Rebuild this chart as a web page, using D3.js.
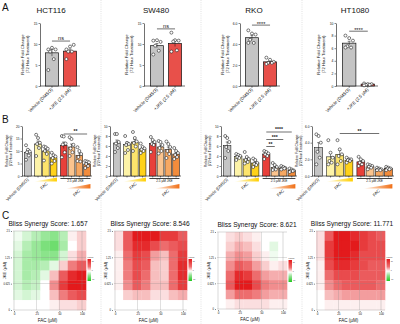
<!DOCTYPE html>
<html>
<head>
<meta charset="utf-8">
<script src="https://cdn.jsdelivr.net/npm/d3@7"></script>
<style>
body{margin:0;background:#fff}
svg text{font-family:"Liberation Sans",Arial,sans-serif;fill:#111}
</style>
</head>
<body>
<script>
// ---------- data ----------
const cellLines = ["HCT116", "SW480", "RKO", "HT1080"];

// panel A: 72h fold change, vehicle vs JKE
const groupsA = ["Vehicle (DMSO)", "+JKE (2.5 µM)"];
const meansA = [[7.9, 8.3], [9.6, 10.1], [4.6, 2.3], [6.8, 0.3]];
const semA = [[0.8, 0.5], [0.5, 0.7], [0.2, 0.1], [0.3, 0.05]];
const pointsA = [
  [[8.7, 9.1, 8.7, 8.2, 6.4, 3.8], [8.7, 9.4, 9.8, 8.2, 8.2, 6.4]],
  [[10.8, 10.9, 10.5, 9.6, 8.4, 7.5], [12.7, 10.9, 10.8, 10.6, 8.5, 8.2]],
  [[5.3, 5.0, 4.9, 4.4, 4.1, 4.1], [2.7, 2.5, 2.3, 2.2, 2.2, 2.1]],
  [[8.0, 7.6, 7.2, 6.3, 6.1, 6.1], [0.4, 0.3, 0.3, 0.2, 0.2, 0.1]]
];
const ymaxA = [15, 15, 6, 10];
const tickStepA = [5, 5, 2, 2];
const sigA = ["ns", "ns", "****", "****"];
const sigLevelA = [10.7, 13.6, 5.8, 8.7];

// panel B: FAC dose series with / without JKE
const groupsB = ["Vehicle (DMSO)", "FAC low", "FAC mid", "FAC high", "JKE", "JKE + FAC low", "JKE + FAC mid", "JKE + FAC high"];
const meansB = [
  [9.5, 12.8, 10.0, 7.3, 12.3, 11.6, 8.3, 4.8],
  [6.6, 6.3, 6.8, 5.4, 6.5, 5.8, 5.3, 4.4],
  [6.1, 3.9, 3.4, 2.6, 4.4, 1.7, 1.6, 1.1],
  [3.4, 2.3, 2.6, 1.9, 1.7, 1.1, 0.8, 0.9]
];
const semB = [
  [0.9, 1.2, 0.9, 0.7, 1.3, 1.2, 0.9, 0.4],
  [0.6, 0.5, 0.5, 0.3, 0.4, 0.4, 0.5, 0.3],
  [0.7, 0.2, 0.3, 0.3, 0.2, 0.2, 0.1, 0.1],
  [0.6, 0.4, 0.5, 0.1, 0.2, 0.1, 0.05, 0.05]
];
const pointsB = [
  [[12.3, 10.5, 9.8, 9.5, 8.2, 6.5], [16.5, 15.2, 13.3, 12.8, 11.2, 8.0], [11.8, 11.5, 10.9, 10.0, 8.8, 6.2], [9.3, 8.3, 7.8, 7.2, 6.0, 5.0],
   [16.0, 15.8, 13.0, 12.6, 9.5, 7.5], [15.5, 14.8, 12.5, 11.0, 9.5, 8.0], [11.5, 10.0, 8.8, 7.6, 5.8, 6.0], [6.0, 5.8, 5.5, 4.8, 4.0, 3.2]],
  [[8.4, 8.4, 6.8, 6.5, 5.6, 4.8], [8.0, 6.6, 6.4, 6.2, 5.2, 4.6], [8.8, 7.6, 6.9, 6.6, 5.9, 5.0], [6.5, 5.8, 5.5, 5.3, 5.0, 4.6],
   [7.8, 7.2, 6.8, 6.4, 6.2, 4.8], [7.0, 6.8, 6.2, 5.6, 5.0, 4.5], [6.9, 6.4, 5.8, 5.0, 4.4, 3.6], [5.6, 5.0, 4.6, 4.2, 3.8, 3.4]],
  [[8.0, 7.6, 6.8, 5.8, 5.0, 3.6], [4.4, 4.2, 4.0, 3.8, 3.6, 3.2], [4.8, 3.8, 3.4, 3.2, 2.8, 2.5], [3.5, 3.2, 2.6, 2.4, 2.2, 1.8],
   [5.0, 4.8, 4.5, 4.3, 4.0, 3.4], [2.6, 2.2, 1.8, 1.5, 1.3, 1.2], [2.0, 1.8, 1.6, 1.5, 1.5, 1.3], [1.5, 1.3, 1.1, 1.0, 1.0, 0.8]],
  [[5.0, 4.8, 4.0, 2.9, 2.2, 1.4], [4.3, 2.8, 2.2, 1.8, 1.6, 1.4], [4.3, 3.2, 2.6, 2.4, 1.8, 1.4], [2.2, 2.0, 2.0, 1.9, 1.8, 1.6],
   [2.3, 2.0, 1.8, 1.6, 1.4, 1.2], [1.4, 1.3, 1.2, 1.1, 1.0, 0.8], [1.0, 0.9, 0.8, 0.8, 0.7, 0.7], [1.1, 1.0, 0.9, 0.9, 0.8, 0.7]]
];
const ymaxB = [20, 10, 10, 6];
const tickStepB = [5, 2, 2, 2];
const sigB = [
  [{from: 4, to: 7, level: 16.8, label: "**"}],
  [],
  [{from: 4, to: 5, level: 5.9, label: "**"}, {from: 4, to: 6, level: 7.3, label: "***"}, {from: 4, to: 7, level: 8.8, label: "****"}],
  [{from: 2, to: 6, level: 5.1, label: "**"}]
];

// panel C: Bliss synergy surfaces (rows: JKE high -> 0, cols: FAC 0 -> high)
const doseFAC = ["0", "25", "50", "100"];
const doseJKE = ["0", "0.625", "1.25", "2.5"];
const blissScores = ["1.657", "8.546", "8.621", "11.771"];
const synergy = [
  [[-1, -3, -5, -7, -8, -5, 1, 3],
   [-2, -5, -7, -9, -10, -6, 0, 3],
   [-3, -6, -7, -8, -8, -3, 2, 5],
   [-3, -6, -6, -5, -2, 3, 8, 10],
   [-3, -6, -5, -2, 4, 10, 13, 14],
   [-3, -5, -4, 0, 7, 12, 15, 16],
   [-2, -3, -2, 0, 4, 8, 10, 11],
   [0, 0, 0, 0, 1, 2, 2, 3]],
  [[2, 10, 14, 15, 14, 12, 12, 10],
   [2, 10, 13, 13, 11, 9, 10, 11],
   [1, 9, 12, 11, 6, 4, 9, 12],
   [1, 8, 11, 10, 4, 3, 9, 13],
   [1, 8, 11, 9, 4, 3, 9, 13],
   [1, 7, 10, 8, 4, 4, 9, 12],
   [0, 3, 4, 4, 2, 2, 4, 5],
   [0, 0, 0, 0, 0, 0, 0, 0]],
  [[0, 2, 3, 2, 1, 0, 0, 0],
   [0, 3, 5, 4, 2, 0, -2, 0],
   [0, 5, 7, 6, 3, 1, -1, 0],
   [0, 7, 10, 9, 6, 3, 1, 2],
   [0, 9, 13, 12, 9, 6, 5, 5],
   [0, 10, 15, 14, 11, 8, 7, 7],
   [0, 6, 9, 9, 8, 6, 5, 5],
   [0, 1, 2, 2, 2, 2, 1, 1]],
  [[2, 10, 14, 15, 13, 12, 11, 10],
   [2, 12, 17, 18, 15, 12, 11, 11],
   [2, 12, 16, 15, 13, 11, 11, 11],
   [1, 11, 13, 13, 12, 11, 10, 10],
   [1, 9, 11, 11, 11, 10, 10, 10],
   [1, 7, 9, 10, 10, 10, 10, 9],
   [0, 4, 5, 6, 6, 6, 6, 6],
   [0, 1, 1, 1, 1, 1, 1, 1]]
];

// ---------- styles / layout ----------
const colorsA = ["#c4c4c4", "#e8504a"];
const colorsB = ["#c4c4c4", "#fdf3a8", "#fde46c", "#ffd21a", "#e8403a", "#fbc48e", "#f7a862", "#f28c3c"];
const slotsB = [0, 1.3, 2.3, 3.3, 4.6, 5.6, 6.6, 7.6];
const jitter = [-0.28, 0, 0.28, -0.14, 0.14, -0.28];

const svg = d3.select("body").append("svg").attr("width", 400).attr("height", 324);

// dotted column separators
[101, 201, 302].forEach(x => svg.append("line")
  .attr("x1", x).attr("x2", x).attr("y1", 0).attr("y2", 324)
  .attr("stroke", "#cfcfcf").attr("stroke-width", 0.6).attr("stroke-dasharray", "1,1.2"));

[["A", 11], ["B", 123], ["C", 219]].forEach(([t, y]) =>
  svg.append("text").attr("x", 2).attr("y", y).attr("font-size", 10).text(t));

function styleAxis(sel, fs) {
  sel.select(".domain").attr("stroke", "#111").attr("stroke-width", 0.6);
  sel.selectAll(".tick line").attr("stroke", "#111").attr("stroke-width", 0.5);
  sel.selectAll(".tick text").attr("font-size", fs).attr("fill", "#111");
}

function yLabel(g, x, y, fs, gap) {
  const t = g.append("g").attr("transform", `translate(${x},${y}) rotate(-90)`);
  t.append("text").attr("text-anchor", "middle").attr("font-size", fs).text("Relative Fold Change");
  t.append("text").attr("text-anchor", "middle").attr("font-size", fs).attr("y", gap).text("(72 Hour Treatment)");
}

function drawPoints(g, cx, bw, pts, y) {
  g.selectAll(null).data(pts).join("circle")
    .attr("cx", (d, k) => cx + jitter[k] * bw)
    .attr("cy", d => y(d)).attr("r", 1.5)
    .attr("fill", "#fff").attr("stroke", "#111").attr("stroke-width", 0.55);
}

function errBar(g, cx, m, s, y) {
  g.append("line").attr("x1", cx).attr("x2", cx).attr("y1", y(m - s)).attr("y2", y(m + s))
    .attr("stroke", "#111").attr("stroke-width", 0.5);
  g.append("line").attr("x1", cx - 1.5).attr("x2", cx + 1.5).attr("y1", y(m + s)).attr("y2", y(m + s))
    .attr("stroke", "#111").attr("stroke-width", 0.5);
}

// ---------- panel A ----------
const layA = [
  {ax: 40, b0: 44, b1: 78, tx: 51},
  {ax: 144, b0: 149, b1: 183, tx: 156},
  {ax: 240, b0: 244, b1: 278, tx: 254},
  {ax: 336, b0: 341, b1: 376, tx: 355}
];
const topA = 23, botA = 86;

cellLines.forEach((name, i) => {
  const L = layA[i];
  const g = svg.append("g");
  const y = d3.scaleLinear().domain([0, ymaxA[i]]).range([botA, topA]);
  const x = d3.scaleBand().domain(groupsA).range([L.b0, L.b1]).paddingInner(0.28).paddingOuter(0.08);

  g.append("text").attr("x", L.tx).attr("y", 13).attr("text-anchor", "middle").attr("font-size", 8).text(name);

  const ya = g.append("g").attr("transform", `translate(${L.ax},0)`)
    .call(d3.axisLeft(y).tickValues(d3.range(0, ymaxA[i] + 0.001, tickStepA[i])).tickSize(1.5).tickPadding(1).tickSizeOuter(0));
  styleAxis(ya, 3.4);
  yLabel(g, L.ax - 16, (topA + botA) / 2, 4.2, 4.8);

  const xa = g.append("g").attr("transform", `translate(0,${botA})`)
    .call(d3.axisBottom(x).tickSize(1.8).tickSizeOuter(0).tickFormat(""));
  xa.select(".domain").attr("d", `M${L.ax},0H${L.b1 + 2}`);
  styleAxis(xa, 4);

  groupsA.forEach((grp, j) => {
    const cx = x(grp) + x.bandwidth() / 2;
    g.append("rect").attr("x", x(grp)).attr("width", x.bandwidth())
      .attr("y", y(meansA[i][j])).attr("height", botA - y(meansA[i][j]))
      .attr("fill", colorsA[j]).attr("stroke", "#111").attr("stroke-width", 0.7);
    errBar(g, cx, meansA[i][j], semA[i][j], y);
    drawPoints(g, cx, x.bandwidth(), pointsA[i][j], y);
    g.append("text").attr("transform", `translate(${cx + 1},${botA + 4}) rotate(-45)`)
      .attr("text-anchor", "end").attr("font-size", 4.5).text(grp);
  });

  const c0 = x(groupsA[0]) + x.bandwidth() / 2, c1 = x(groupsA[1]) + x.bandwidth() / 2;
  const sy = y(sigLevelA[i]);
  g.append("line").attr("x1", c0).attr("x2", c1).attr("y1", sy).attr("y2", sy).attr("stroke", "#111").attr("stroke-width", 0.6);
  g.append("text").attr("x", (c0 + c1) / 2).attr("y", sigA[i] === "ns" ? sy - 1.2 : sy + 0.6)
    .attr("text-anchor", "middle").attr("font-size", 5.5).text(sigA[i]);
});

// ---------- panel B ----------
const layB = [
  {ax: 22, b0: 24, b1: 91},
  {ax: 110, b0: 113, b1: 180},
  {ax: 221, b0: 223, b1: 296},
  {ax: 312, b0: 314, b1: 393}
];
const topB = 126, botB = 176;
const defs = svg.append("defs");
const gy = defs.append("linearGradient").attr("id", "gYel");
gy.append("stop").attr("offset", "0%").attr("stop-color", "#fffbe6");
gy.append("stop").attr("offset", "100%").attr("stop-color", "#ffcf00");
const go = defs.append("linearGradient").attr("id", "gOra");
go.append("stop").attr("offset", "0%").attr("stop-color", "#fff0e2");
go.append("stop").attr("offset", "100%").attr("stop-color", "#f07018");

cellLines.forEach((name, i) => {
  const L = layB[i];
  const g = svg.append("g");
  const y = d3.scaleLinear().domain([0, ymaxB[i]]).range([botB, topB]);
  const step = (L.b1 - L.b0) / 8.6;
  const bw = step * 0.86;
  const xs = d3.scaleLinear().domain([0, 7.6]).range([L.b0 + step / 2, L.b1 - step / 2]);

  const ya = g.append("g").attr("transform", `translate(${L.ax},0)`)
    .call(d3.axisLeft(y).tickValues(d3.range(0, ymaxB[i] + 0.001, tickStepB[i])).tickSize(1.5).tickPadding(1).tickSizeOuter(0));
  styleAxis(ya, 3.2);
  yLabel(g, L.ax - 14, (topB + botB) / 2, 3.4, 3.8);

  g.append("line").attr("x1", L.ax).attr("x2", L.b1 + 1).attr("y1", botB).attr("y2", botB)
    .attr("stroke", "#111").attr("stroke-width", 0.6);

  groupsB.forEach((grp, j) => {
    const cx = xs(slotsB[j]);
    g.append("rect").attr("x", cx - bw / 2).attr("width", bw)
      .attr("y", y(meansB[i][j])).attr("height", botB - y(meansB[i][j]))
      .attr("fill", colorsB[j]).attr("stroke", "#111").attr("stroke-width", 0.55);
    errBar(g, cx, meansB[i][j], semB[i][j], y);
    drawPoints(g, cx, bw, pointsB[i][j], y);
    g.append("line").attr("x1", cx).attr("x2", cx).attr("y1", botB).attr("y2", botB + 1.5)
      .attr("stroke", "#111").attr("stroke-width", 0.5);
  });

  sigB[i].forEach(s => {
    const x1 = xs(slotsB[s.from]), x2 = xs(slotsB[s.to]), sy = y(s.level);
    g.append("line").attr("x1", x1).attr("x2", x2).attr("y1", sy).attr("y2", sy)
      .attr("stroke", "#333").attr("stroke-width", 0.7);
    g.append("text").attr("x", (x1 + x2) / 2).attr("y", sy - 0.6).attr("text-anchor", "middle")
      .attr("font-size", 5).attr("font-weight", "bold").text(s.label);
  });

  // vehicle label
  g.append("text").attr("transform", `translate(${xs(0) + 1},${botB + 4}) rotate(-45)`)
    .attr("text-anchor", "end").attr("font-size", 4.2).text("Vehicle (DMSO)");

  // FAC wedge (no JKE)
  const yl = xs(slotsB[1]) - bw / 2, yr = xs(slotsB[3]) + bw / 2;
  g.append("path").attr("d", `M${yl},${botB + 5.5}L${yr},${botB + 1.5}L${yr},${botB + 5.5}Z`).attr("fill", "url(#gYel)");
  g.append("text").attr("transform", `translate(${(yl + yr) / 2 + 2},${botB + 8}) rotate(-45)`)
    .attr("text-anchor", "end").attr("font-size", 4.2).text("FAC");

  // JKE bracket + FAC wedge
  const ol = xs(slotsB[4]) - bw / 2, or = xs(slotsB[7]) + bw / 2;
  g.append("line").attr("x1", ol).attr("x2", or).attr("y1", botB + 2.5).attr("y2", botB + 2.5)
    .attr("stroke", "#111").attr("stroke-width", 0.8);
  g.append("text").attr("x", (ol + or) / 2).attr("y", botB + 6.2).attr("text-anchor", "middle")
    .attr("font-size", 3.2).text("2.5 µM JKE");
  const wl = ol + (or - ol) * 0.2;
  g.append("path").attr("d", `M${wl},${botB + 12.5}L${or},${botB + 8}L${or},${botB + 12.5}Z`).attr("fill", "url(#gOra)");
  g.append("text").attr("transform", `translate(${(wl + or) / 2 + 2},${botB + 15}) rotate(-45)`)
    .attr("text-anchor", "end").attr("font-size", 4.2).text("FAC");
});

// ---------- panel C ----------
const layC = [
  {x: 13, y: 231, w: 73, h: 79, tx: 48},
  {x: 114, y: 231, w: 73, h: 79, tx: 150},
  {x: 217, y: 232, w: 70, h: 77, tx: 257},
  {x: 316, y: 231, w: 69, h: 79, tx: 352}
];
const synColor = d3.scaleLinear().domain([-15, 0, 14]).range(["#25cc25", "#ffffff", "#e31a1c"]).clamp(true);
const gl = defs.append("linearGradient").attr("id", "gLeg").attr("x1", 0).attr("x2", 0).attr("y1", 0).attr("y2", 1);
[["0%", "#e31a1c"], ["35%", "#f07070"], ["55%", "#ffffff"], ["75%", "#8fe08f"], ["100%", "#1ec81e"]]
  .forEach(([o, c]) => gl.append("stop").attr("offset", o).attr("stop-color", c));

cellLines.forEach((name, i) => {
  const L = layC[i];
  const g = svg.append("g");
  const m = synergy[i];
  const xc = d3.scaleBand().domain(d3.range(m[0].length)).range([L.x, L.x + L.w]);
  const yc = d3.scaleBand().domain(d3.range(m.length)).range([L.y, L.y + L.h]);

  g.append("text").attr("x", L.tx).attr("y", L.y - 5).attr("text-anchor", "middle")
    .attr("font-size", 6.6).text("Bliss Synergy Score: " + blissScores[i]);

  m.forEach((row, r) => row.forEach((v, c) => {
    g.append("rect").attr("x", xc(c)).attr("y", yc(r))
      .attr("width", xc.bandwidth() + 0.3).attr("height", yc.bandwidth() + 0.3)
      .attr("fill", synColor(v));
  }));

  const xg = d3.scalePoint().domain(doseFAC).range([L.x + 1, L.x + L.w - 4]);
  const yg = d3.scalePoint().domain(doseJKE).range([L.y + L.h, L.y]);
  doseFAC.forEach(d => g.append("line").attr("x1", xg(d)).attr("x2", xg(d)).attr("y1", L.y).attr("y2", L.y + L.h)
    .attr("stroke", "#8a8a8a").attr("stroke-width", 0.45).attr("opacity", 0.7));
  doseJKE.forEach(d => g.append("line").attr("x1", L.x).attr("x2", L.x + L.w).attr("y1", yg(d)).attr("y2", yg(d))
    .attr("stroke", "#8a8a8a").attr("stroke-width", 0.45).attr("opacity", 0.7));

  const xa = g.append("g").attr("transform", `translate(0,${L.y + L.h + 1})`)
    .call(d3.axisBottom(xg).tickSize(1).tickPadding(1));
  xa.select(".domain").remove();
  styleAxis(xa, 3);
  const ya = g.append("g").attr("transform", `translate(${L.x - 1},0)`)
    .call(d3.axisLeft(yg).tickSize(1).tickPadding(1));
  ya.select(".domain").remove();
  styleAxis(ya, 2.6);

  g.append("text").attr("x", L.x + L.w / 2 - 2).attr("y", L.y + L.h + 12).attr("text-anchor", "middle")
    .attr("font-size", 4.5).text("FAC (µM)");
  g.append("text").attr("transform", `translate(${L.x - 7},${L.y + L.h / 2}) rotate(-90)`)
    .attr("text-anchor", "middle").attr("font-size", 4.2).text("JKE (µM)");

  // colour key
  const lx = L.x + L.w + 1.5, ly = L.y + 28;
  g.append("rect").attr("x", lx).attr("y", ly).attr("width", 3.5).attr("height", 22).attr("fill", "url(#gLeg)");
  g.append("text").attr("x", lx).attr("y", ly - 1).attr("font-size", 1.8).text("δ-score");
  [["10", 3], ["0", 12], ["-10", 21]].forEach(([t, dy]) =>
    g.append("text").attr("x", lx + 4.2).attr("y", ly + dy).attr("font-size", 1.8).text(t));
});
</script>
</body>
</html>
